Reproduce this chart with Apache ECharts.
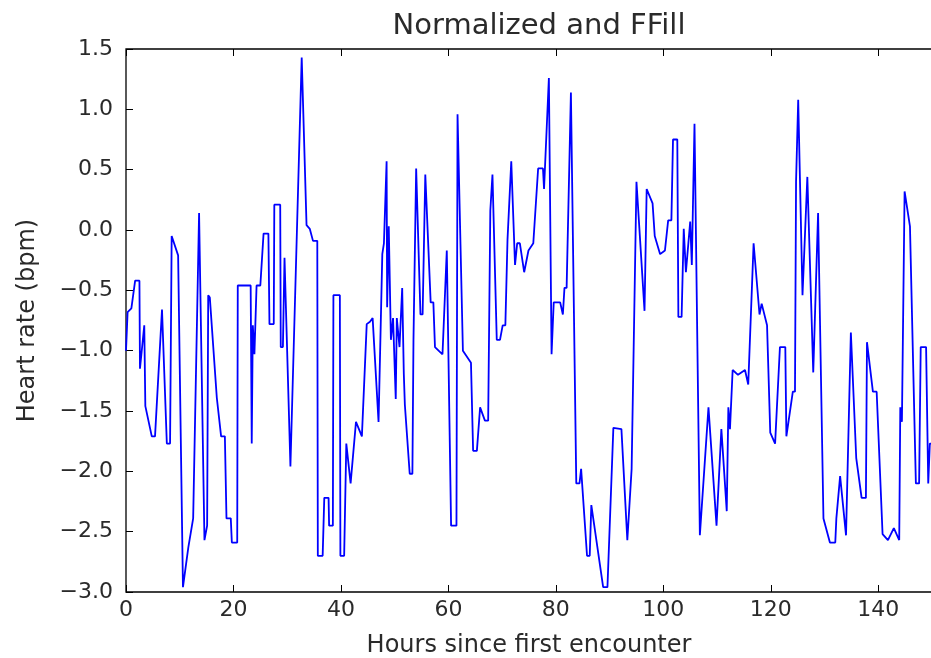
<!DOCTYPE html>
<html>
<head>
<meta charset="utf-8">
<script src="https://cdn.jsdelivr.net/npm/echarts@6/dist/echarts.min.js"></script>
<style>html,body{margin:0;padding:0;background:#fff}#c{width:931px;height:658px}</style>
</head>
<body>
<div id="c"></div>
<script>
const TITLE = 'Normalized and FFill';
const X_LABEL = 'Hours since first encounter';
const Y_LABEL = 'Heart rate (bpm)';
const hours = [0,0.3,1.0,1.7,2.5,2.6,3.4,3.6,4.8,5.4,6.7,7.6,8.2,8.5,9.7,10.6,11.6,12.5,13.6,14.6,15.1,15.3,15.6,16.9,17.7,18.4,18.7,19.5,19.7,20.7,20.8,23.2,23.4,23.6,23.9,24.3,25.0,25.6,26.5,26.7,27.5,27.6,28.7,28.8,29.2,29.5,30.6,32.7,33.6,34.2,34.8,35.6,35.7,36.6,36.9,37.7,37.8,38.5,38.6,39.8,39.9,40.6,41.0,41.8,42.8,43.9,44.8,45.4,45.9,47.0,47.7,48.0,48.5,48.6,48.9,49.3,49.7,50.2,50.4,50.9,51.4,51.7,51.9,52.8,53.3,53.5,54.0,54.3,54.8,55.2,55.7,56.7,57.2,57.5,58.9,59.7,60.5,61.5,61.7,62.7,64.2,64.6,65.3,65.9,66.8,67.4,67.8,68.2,69.0,69.6,70.1,70.6,71.0,71.7,72.4,72.8,73.3,74.1,74.9,75.8,76.7,77.6,77.8,78.7,79.2,79.6,80.8,81.3,81.6,82.0,82.8,83.1,83.8,84.4,84.7,85.8,86.3,86.6,88.8,89.6,90.7,92.2,93.3,94.1,95.0,96.5,96.9,98.0,98.4,99.4,100.3,100.9,101.5,101.8,102.6,102.8,103.4,103.8,104.2,105.0,105.3,105.8,106.8,108.4,109.9,110.8,111.8,112.1,112.4,112.9,113.9,115.2,115.8,116.8,117.9,118.3,119.3,119.9,120.8,121.7,122.7,122.9,124.1,124.5,124.7,125.1,125.4,125.9,126.8,127.9,128.8,129.8,131.0,132.0,132.2,132.9,134.0,134.9,135.9,136.9,137.7,137.9,139.0,139.7,140.8,141.8,142.9,143.9,144.1,144.4,144.9,145.9,147.0,147.6,147.9,148.9,149.3,149.6,150.2];
const heartRate = [-1.0,-0.68,-0.65,-0.42,-0.42,-1.15,-0.79,-1.46,-1.71,-1.71,-0.66,-1.77,-1.77,-0.05,-0.21,-2.96,-2.63,-2.39,0.14,-2.57,-2.45,-0.54,-0.56,-1.39,-1.71,-1.71,-2.39,-2.39,-2.59,-2.59,-0.46,-0.46,-1.77,-0.79,-1.03,-0.46,-0.46,-0.03,-0.03,-0.78,-0.78,0.21,0.21,-0.97,-0.97,-0.23,-1.96,1.43,0.04,0.01,-0.09,-0.09,-2.7,-2.7,-2.22,-2.22,-2.45,-2.45,-0.54,-0.54,-2.7,-2.7,-1.77,-2.1,-1.59,-1.71,-0.78,-0.76,-0.73,-1.59,-0.2,-0.11,0.57,-0.64,0.03,-0.91,-0.73,-1.4,-0.73,-0.97,-0.48,-1.19,-1.45,-2.02,-2.02,-0.91,0.51,0.51,-0.7,-0.7,0.46,-0.6,-0.6,-0.97,-1.03,-0.17,-2.45,-2.45,0.96,-1.0,-1.1,-1.83,-1.83,-1.47,-1.58,-1.58,0.16,0.46,-0.91,-0.91,-0.79,-0.79,-0.08,0.57,-0.29,-0.11,-0.11,-0.35,-0.17,-0.11,0.51,0.51,0.34,1.26,-1.03,-0.6,-0.6,-0.7,-0.48,-0.48,1.14,1.14,-2.1,-2.1,-1.98,-2.7,-2.7,-2.28,-2.96,-2.96,-1.64,-1.65,-2.57,-1.98,0.4,-0.67,0.34,0.22,-0.05,-0.2,-0.17,0.08,0.08,0.75,0.75,-0.72,-0.72,0.01,-0.35,0.07,-0.29,0.88,-2.53,-1.47,-2.45,-1.65,-2.33,-1.47,-1.65,-1.16,-1.2,-1.16,-1.28,-0.11,-0.7,-0.61,-0.79,-1.68,-1.77,-0.97,-0.97,-1.71,-1.34,-1.34,0.4,1.08,1.08,-0.54,0.44,-1.18,0.14,-2.39,-2.59,-2.59,-2.39,-2.04,-2.53,-0.85,-1.89,-2.22,-2.22,-0.93,-1.34,-1.34,-2.52,-2.57,-2.47,-2.57,-1.47,-1.59,0.32,0.03,-2.1,-2.1,-0.97,-0.97,-2.1,-1.77,-1.77];

const FONT = 'DejaVu Sans';
const TXT = '#2a2a2a';
const series = hours.map((h, i) => [h, heartRate[i]]);
const fmtY = v => (v < 0 ? '\u2212' : '') + Math.abs(v).toFixed(1);

const chart = echarts.init(document.getElementById('c'), null, {renderer: 'canvas'});
chart.setOption({
  animation: false,
  backgroundColor: '#fff',
  title: {
    text: TITLE, left: 534, top: 7, textAlign: 'center',
    textStyle: {fontFamily: FONT, fontSize: 29, fontWeight: 'normal', color: TXT}
  },
  grid: {left: 126, top: 49, width: 806, height: 543, outerBoundsMode: 'none', containLabel: false,
         show: true, borderColor: '#000', borderWidth: 1.3, backgroundColor: 'transparent'},
  xAxis: [{
    type: 'value', min: 0, max: 150, interval: 20, position: 'bottom',
    name: X_LABEL, nameLocation: 'middle', nameGap: 42,
    nameTextStyle: {fontFamily: FONT, fontSize: 24, color: TXT},
    axisLine: {show: false, onZero: false},
    axisTick: {show: true, inside: true, length: 7, lineStyle: {color: '#000'}},
    axisLabel: {fontFamily: FONT, fontSize: 22, color: TXT, margin: 7, showMaxLabel: false},
    splitLine: {show: false}
  }, {
    type: 'value', min: 0, max: 150, interval: 20, position: 'top',
    axisLine: {show: false, onZero: false},
    axisTick: {show: true, inside: true, length: 7, lineStyle: {color: '#000'}},
    axisLabel: {show: false}, splitLine: {show: false}
  }],
  yAxis: {
    type: 'value', min: -3, max: 1.5, interval: 0.5,
    name: Y_LABEL, nameLocation: 'middle', nameGap: 86, nameRotate: 90,
    nameTextStyle: {fontFamily: FONT, fontSize: 24, color: TXT},
    axisLine: {show: false, onZero: false},
    axisTick: {show: true, inside: true, length: 7, lineStyle: {color: '#000'}},
    axisLabel: {fontFamily: FONT, fontSize: 22, color: TXT, margin: 13, formatter: fmtY},
    splitLine: {show: false}
  },
  series: [{
    type: 'line', data: series, showSymbol: false, clip: true,
    lineStyle: {color: '#0000ff', width: 1.8}, itemStyle: {color: '#0000ff'}
  }]
});
</script>
</body>
</html>
